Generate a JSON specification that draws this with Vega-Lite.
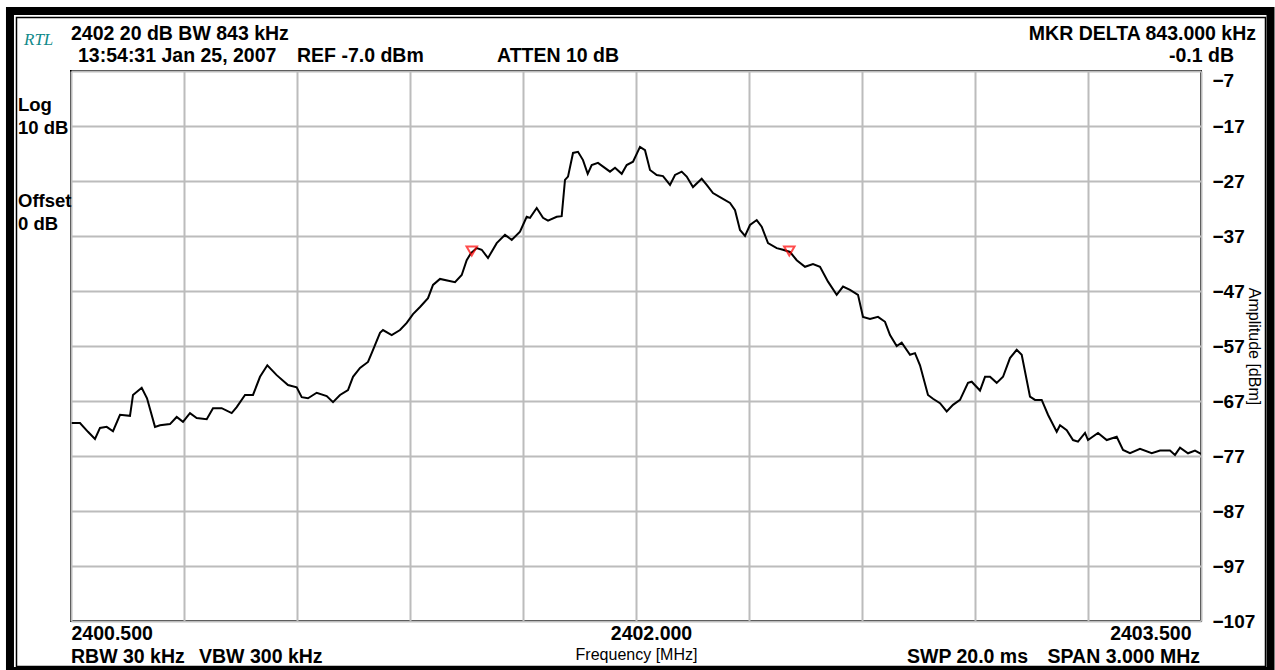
{
  "$schema": "https://vega.github.io/schema/vega-lite/v6.json",
  "width": 1130,
  "height": 550,
  "autosize": {"type": "none"},
  "padding": {"left": 71, "top": 71, "right": 74, "bottom": 49},
  "background": "white",
  "config": {
    "font": "Liberation Sans",
    "view": {"stroke": "black", "strokeWidth": 2},
    "text": {"font": "Liberation Sans", "fontSize": 19.5, "fontWeight": "bold", "baseline": "middle", "color": "black"}
  },
  "datasets": {
    "trace": [
      {"f": 2400.5019, "a": -71.0}, {"f": 2400.5239, "a": -71.0}, {"f": 2400.5451, "a": -72.6}, {"f": 2400.5637, "a": -73.9},
      {"f": 2400.5770, "a": -71.9}, {"f": 2400.5948, "a": -71.7}, {"f": 2400.6115, "a": -72.5}, {"f": 2400.6301, "a": -69.5},
      {"f": 2400.6566, "a": -69.7}, {"f": 2400.6646, "a": -65.9}, {"f": 2400.6877, "a": -64.6}, {"f": 2400.7018, "a": -66.5},
      {"f": 2400.7230, "a": -71.7}, {"f": 2400.7363, "a": -71.4}, {"f": 2400.7628, "a": -71.2}, {"f": 2400.7806, "a": -69.9},
      {"f": 2400.7973, "a": -70.8}, {"f": 2400.8159, "a": -69.2}, {"f": 2400.8337, "a": -70.1}, {"f": 2400.8603, "a": -70.3},
      {"f": 2400.8770, "a": -68.3}, {"f": 2400.9001, "a": -68.3}, {"f": 2400.9266, "a": -69.2}, {"f": 2400.9399, "a": -68.1},
      {"f": 2400.9620, "a": -65.9}, {"f": 2400.9832, "a": -65.9}, {"f": 2401.0018, "a": -62.6}, {"f": 2401.0212, "a": -60.5},
      {"f": 2401.0461, "a": -62.3}, {"f": 2401.0761, "a": -64.1}, {"f": 2401.0992, "a": -64.5}, {"f": 2401.1125, "a": -66.3},
      {"f": 2401.1292, "a": -66.5}, {"f": 2401.1523, "a": -65.5}, {"f": 2401.1789, "a": -66.1}, {"f": 2401.1956, "a": -67.2},
      {"f": 2401.2142, "a": -65.9}, {"f": 2401.2354, "a": -65.0}, {"f": 2401.2487, "a": -62.6}, {"f": 2401.2673, "a": -61.0},
      {"f": 2401.2885, "a": -59.9}, {"f": 2401.2983, "a": -58.3}, {"f": 2401.3204, "a": -54.6}, {"f": 2401.3283, "a": -54.1},
      {"f": 2401.3514, "a": -55.0}, {"f": 2401.3735, "a": -54.1}, {"f": 2401.3913, "a": -52.8}, {"f": 2401.4080, "a": -51.2},
      {"f": 2401.4266, "a": -49.9}, {"f": 2401.4478, "a": -48.3}, {"f": 2401.4611, "a": -45.9}, {"f": 2401.4797, "a": -44.8},
      {"f": 2401.5195, "a": -45.4}, {"f": 2401.5373, "a": -44.1}, {"f": 2401.5505, "a": -41.4}, {"f": 2401.5620, "a": -40.1},
      {"f": 2401.5771, "a": -39.2}, {"f": 2401.5904, "a": -39.5}, {"f": 2401.6071, "a": -41.0}, {"f": 2401.6302, "a": -38.3},
      {"f": 2401.6522, "a": -36.8}, {"f": 2401.6700, "a": -37.7}, {"f": 2401.6920, "a": -36.2}, {"f": 2401.7098, "a": -33.5},
      {"f": 2401.7186, "a": -33.7}, {"f": 2401.7364, "a": -31.9}, {"f": 2401.7531, "a": -33.7}, {"f": 2401.7664, "a": -34.2},
      {"f": 2401.7895, "a": -33.5}, {"f": 2401.8027, "a": -33.4}, {"f": 2401.8115, "a": -26.8}, {"f": 2401.8195, "a": -26.2},
      {"f": 2401.8328, "a": -21.9}, {"f": 2401.8460, "a": -21.7}, {"f": 2401.8593, "a": -23.2}, {"f": 2401.8718, "a": -25.7},
      {"f": 2401.8824, "a": -24.1}, {"f": 2401.8991, "a": -23.7}, {"f": 2401.9310, "a": -25.3}, {"f": 2401.9443, "a": -24.6},
      {"f": 2401.9621, "a": -25.7}, {"f": 2401.9753, "a": -24.1}, {"f": 2401.9921, "a": -23.5}, {"f": 2402.0106, "a": -20.8},
      {"f": 2402.0239, "a": -21.4}, {"f": 2402.0372, "a": -25.0}, {"f": 2402.0550, "a": -25.9}, {"f": 2402.0717, "a": -26.1},
      {"f": 2402.0903, "a": -27.7}, {"f": 2402.1036, "a": -25.9}, {"f": 2402.1213, "a": -25.3}, {"f": 2402.1346, "a": -26.2},
      {"f": 2402.1513, "a": -28.1}, {"f": 2402.1744, "a": -26.6}, {"f": 2402.1877, "a": -27.7}, {"f": 2402.2044, "a": -29.2},
      {"f": 2402.2275, "a": -30.1}, {"f": 2402.2496, "a": -31.0}, {"f": 2402.2629, "a": -32.3}, {"f": 2402.2761, "a": -35.9},
      {"f": 2402.2894, "a": -37.0}, {"f": 2402.3027, "a": -35.0}, {"f": 2402.3205, "a": -34.1}, {"f": 2402.3337, "a": -35.3},
      {"f": 2402.3505, "a": -38.3}, {"f": 2402.3736, "a": -39.2}, {"f": 2402.3903, "a": -39.5}, {"f": 2402.4089, "a": -39.9},
      {"f": 2402.4267, "a": -41.4}, {"f": 2402.4487, "a": -42.6}, {"f": 2402.4699, "a": -42.1}, {"f": 2402.4885, "a": -42.6},
      {"f": 2402.5098, "a": -45.3}, {"f": 2402.5328, "a": -47.7}, {"f": 2402.5496, "a": -46.2}, {"f": 2402.5682, "a": -46.8},
      {"f": 2402.5894, "a": -47.7}, {"f": 2402.6027, "a": -51.7}, {"f": 2402.6213, "a": -52.1}, {"f": 2402.6425, "a": -51.7},
      {"f": 2402.6611, "a": -52.6}, {"f": 2402.6744, "a": -55.0}, {"f": 2402.6921, "a": -57.0}, {"f": 2402.7054, "a": -56.4},
      {"f": 2402.7275, "a": -58.6}, {"f": 2402.7407, "a": -58.3}, {"f": 2402.7540, "a": -60.5}, {"f": 2402.7752, "a": -65.9},
      {"f": 2402.7885, "a": -66.6}, {"f": 2402.8071, "a": -67.4}, {"f": 2402.8249, "a": -68.9}, {"f": 2402.8416, "a": -67.7},
      {"f": 2402.8602, "a": -66.8}, {"f": 2402.8814, "a": -63.7}, {"f": 2402.8913, "a": -63.5}, {"f": 2402.9133, "a": -65.1},
      {"f": 2402.9266, "a": -62.6}, {"f": 2402.9399, "a": -62.6}, {"f": 2402.9576, "a": -63.7}, {"f": 2402.9744, "a": -62.6},
      {"f": 2402.9929, "a": -59.2}, {"f": 2403.0107, "a": -57.7}, {"f": 2403.0240, "a": -58.6}, {"f": 2403.0460, "a": -66.2},
      {"f": 2403.0593, "a": -66.8}, {"f": 2403.0771, "a": -66.8}, {"f": 2403.0938, "a": -69.5}, {"f": 2403.1169, "a": -72.6},
      {"f": 2403.1257, "a": -71.4}, {"f": 2403.1435, "a": -72.3}, {"f": 2403.1602, "a": -74.1}, {"f": 2403.1735, "a": -74.4},
      {"f": 2403.1921, "a": -72.8}, {"f": 2403.2000, "a": -74.1}, {"f": 2403.2266, "a": -72.8}, {"f": 2403.2497, "a": -74.1},
      {"f": 2403.2762, "a": -73.5}, {"f": 2403.2930, "a": -75.9}, {"f": 2403.3115, "a": -76.5}, {"f": 2403.3381, "a": -75.7},
      {"f": 2403.3692, "a": -76.5}, {"f": 2403.3912, "a": -76.0}, {"f": 2403.4177, "a": -76.0}, {"f": 2403.4310, "a": -76.8},
      {"f": 2403.4443, "a": -75.5}, {"f": 2403.4655, "a": -76.5}, {"f": 2403.4841, "a": -76.0}, {"f": 2403.5000, "a": -76.6}
    ],
    "markers": [
      {"f": 2401.564, "a": -39.9},
      {"f": 2402.407, "a": -39.9}
    ]
  },
  "layer": [
    {
      "data": {"name": "trace"},
      "mark": {"type": "line", "color": "black", "strokeWidth": 2, "clip": true},
      "encoding": {
        "x": {
          "field": "f", "type": "quantitative",
          "scale": {"domain": [2400.5, 2403.5], "nice": false, "zero": false},
          "axis": {
            "values": [2400.5, 2400.8, 2401.1, 2401.4, 2401.7, 2402.0, 2402.3, 2402.6, 2402.9, 2403.2, 2403.5],
            "grid": true, "gridColor": "#bcbcbc", "gridWidth": 2, "gridOpacity": 1,
            "ticks": false, "domain": false,
            "labelExpr": "datum.value < 2400.51 ? '2400.500' : (abs(datum.value - 2402) < 0.01 ? '2402.000' : (datum.value > 2403.49 ? '2403.500' : ''))",
            "labelAlign": {"condition": [{"test": "datum.value < 2400.51", "value": "left"}, {"test": "datum.value > 2403.49", "value": "right"}], "value": "center"},
            "labelOffset": {"condition": [{"test": "datum.value > 2403.49", "value": -10}, {"test": "abs(datum.value - 2402) < 0.01", "value": 15}], "value": 0},
            "labelFont": "Liberation Sans", "labelFontSize": 19.5, "labelFontWeight": "bold", "labelColor": "black",
            "labelBaseline": "middle", "labelPadding": 12,
            "labelOverlap": false, "labelBound": false, "labelFlush": false,
            "title": "Frequency [MHz]",
            "titleFont": "Liberation Sans", "titleFontSize": 16, "titleFontWeight": "normal", "titleColor": "black",
            "titlePadding": 4
          }
        },
        "y": {
          "field": "a", "type": "quantitative",
          "scale": {"domain": [-107, -7], "nice": false, "zero": false},
          "axis": {
            "orient": "right",
            "values": [-7, -17, -27, -37, -47, -57, -67, -77, -87, -97, -107],
            "grid": true, "gridColor": "#bcbcbc", "gridWidth": 2, "gridOpacity": 1,
            "ticks": false, "domain": false,
            "format": "d",
            "labelFont": "Liberation Sans", "labelFontSize": 19, "labelFontWeight": "bold", "labelColor": "black",
            "labelAlign": "left",
            "labelBaseline": {"condition": {"test": "datum.value > -8", "value": "top"}, "value": "middle"},
            "labelPadding": 11,
            "labelOverlap": false, "labelBound": false, "labelFlush": false,
            "title": "Amplitude [dBm]",
            "titleFont": "Liberation Sans", "titleFontSize": 16, "titleFontWeight": "normal", "titleColor": "black",
            "titleAngle": 90, "titlePadding": -9
          }
        }
      }
    },
    {
      "data": {"values": [{"frame": "outer"}]},
      "mark": {"type": "rect", "fill": "transparent", "stroke": "black", "strokeWidth": 8},
      "encoding": {
        "x": {"datum": 2400.338},
        "x2": {"datum": 2403.6845},
        "y": {"datum": 3.909},
        "y2": {"datum": -116.09}
      }
    },
    {
      "data": {"values": [{"frame": "inner"}]},
      "mark": {"type": "rect", "fill": "transparent", "stroke": "black", "strokeWidth": 1.5},
      "encoding": {
        "x": {"datum": 2400.3553},
        "x2": {"datum": 2403.6712},
        "y": {"datum": 2.727},
        "y2": {"datum": -115.27}
      }
    },
    {
      "data": {"name": "markers"},
      "mark": {"type": "point", "shape": "triangle-down", "filled": false, "color": "#ff0000", "size": 110, "strokeWidth": 2, "yOffset": -1},
      "encoding": {
        "x": {"field": "f", "type": "quantitative"},
        "y": {"field": "a", "type": "quantitative"}
      }
    },
    {
      "data": {"values": [{"label": "RTL"}]},
      "mark": {"type": "text", "align": "left", "font": "Liberation Serif", "fontStyle": "italic", "fontWeight": "normal", "fontSize": 17, "color": "#108a8a"},
      "encoding": {"x": {"datum": 2400.3752}, "y": {"datum": -1.3}, "text": {"field": "label"}}
    },
    {
      "data": {"values": [{"label": "2402 20 dB BW 843 kHz"}]},
      "mark": {"type": "text", "align": "left"},
      "encoding": {"x": {"datum": 2400.5}, "y": {"datum": -0.2}, "text": {"field": "label"}}
    },
    {
      "data": {"values": [{"label": "13:54:31 Jan 25, 2007"}]},
      "mark": {"type": "text", "align": "left"},
      "encoding": {"x": {"datum": 2400.5186}, "y": {"datum": -4.27}, "text": {"field": "label"}}
    },
    {
      "data": {"values": [{"label": "REF -7.0 dBm"}]},
      "mark": {"type": "text", "align": "left"},
      "encoding": {"x": {"datum": 2401.1}, "y": {"datum": -4.27}, "text": {"field": "label"}}
    },
    {
      "data": {"values": [{"label": "ATTEN 10 dB"}]},
      "mark": {"type": "text", "align": "left"},
      "encoding": {"x": {"datum": 2401.631}, "y": {"datum": -4.27}, "text": {"field": "label"}}
    },
    {
      "data": {"values": [{"label": "MKR DELTA 843.000 kHz"}]},
      "mark": {"type": "text", "align": "right"},
      "encoding": {"x": {"datum": 2403.6461}, "y": {"datum": -0.2}, "text": {"field": "label"}}
    },
    {
      "data": {"values": [{"label": "-0.1 dB"}]},
      "mark": {"type": "text", "align": "right"},
      "encoding": {"x": {"datum": 2403.5876}, "y": {"datum": -4.27}, "text": {"field": "label"}}
    },
    {
      "data": {"values": [{"label": "Log"}]},
      "mark": {"type": "text", "align": "left", "fontSize": 18.5},
      "encoding": {"x": {"datum": 2400.3593}, "y": {"datum": -13.18}, "text": {"field": "label"}}
    },
    {
      "data": {"values": [{"label": "10 dB"}]},
      "mark": {"type": "text", "align": "left", "fontSize": 18.5},
      "encoding": {"x": {"datum": 2400.3593}, "y": {"datum": -17.36}, "text": {"field": "label"}}
    },
    {
      "data": {"values": [{"label": "Offset"}]},
      "mark": {"type": "text", "align": "left", "fontSize": 18.5},
      "encoding": {"x": {"datum": 2400.3593}, "y": {"datum": -30.63}, "text": {"field": "label"}}
    },
    {
      "data": {"values": [{"label": "0 dB"}]},
      "mark": {"type": "text", "align": "left", "fontSize": 18.5},
      "encoding": {"x": {"datum": 2400.3593}, "y": {"datum": -34.81}, "text": {"field": "label"}}
    },
    {
      "data": {"values": [{"label": "RBW 30 kHz"}]},
      "mark": {"type": "text", "align": "left"},
      "encoding": {"x": {"datum": 2400.5}, "y": {"datum": -113.6}, "text": {"field": "label"}}
    },
    {
      "data": {"values": [{"label": "VBW 300 kHz"}]},
      "mark": {"type": "text", "align": "left"},
      "encoding": {"x": {"datum": 2400.8399}, "y": {"datum": -113.6}, "text": {"field": "label"}}
    },
    {
      "data": {"values": [{"label": "SWP 20.0 ms"}]},
      "mark": {"type": "text", "align": "left"},
      "encoding": {"x": {"datum": 2402.7195}, "y": {"datum": -113.6}, "text": {"field": "label"}}
    },
    {
      "data": {"values": [{"label": "SPAN 3.000 MHz"}]},
      "mark": {"type": "text", "align": "right"},
      "encoding": {"x": {"datum": 2403.4973}, "y": {"datum": -113.6}, "text": {"field": "label"}}
    }
  ]
}
